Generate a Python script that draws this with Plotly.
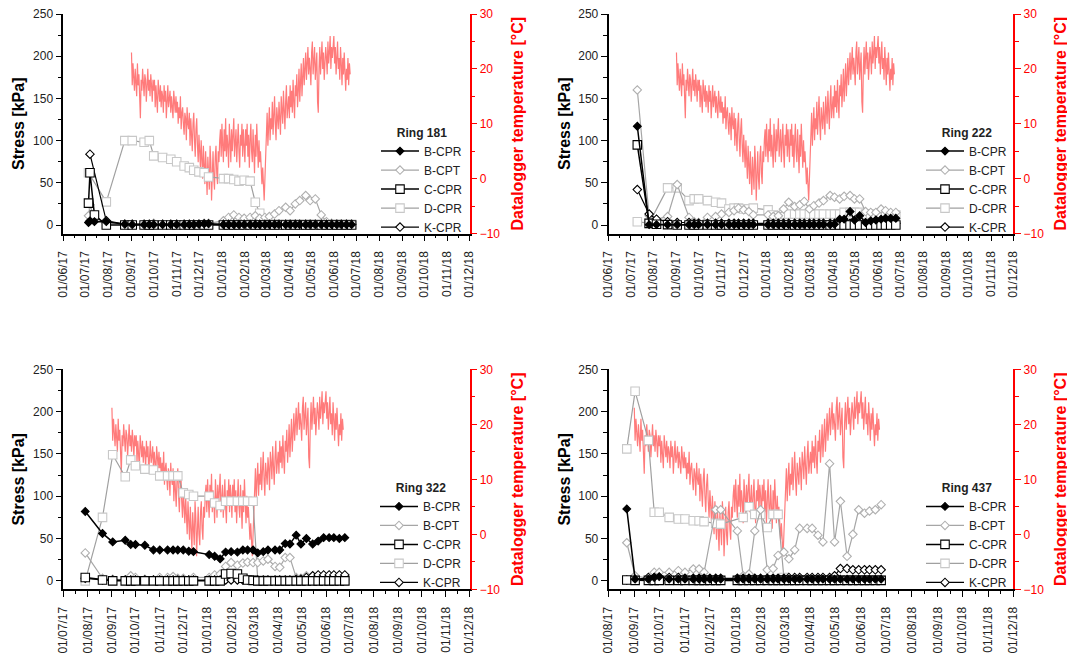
import pandas as pd
import plotly.graph_objects as go

FONT = "Liberation Sans, Arial, sans-serif"

# ---------------- data ----------------
# common reading schedule (Sep 2017 - Jun 2018)
main_dates = ["02/09/17", "18/09/17", "25/09/17",
              "01/10/17", "13/10/17", "24/10/17",
              "01/11/17", "11/11/17", "18/11/17", "24/11/17",
              "01/12/17", "08/12/17", "14/12/17",
              "03/01/18", "10/01/18", "17/01/18", "24/01/18", "31/01/18",
              "08/02/18", "15/02/18", "21/02/18", "28/02/18",
              "06/03/18", "13/03/18", "19/03/18", "28/03/18",
              "03/04/18", "10/04/18", "16/04/18", "24/04/18", "30/04/18",
              "07/05/18", "15/05/18", "22/05/18", "29/05/18",
              "05/06/18", "11/06/18", "18/06/18", "25/06/18"]

# Ring 181
r181_early = ["05/07/17", "07/07/17", "13/07/17", "29/07/17", "23/08/17"]
r181_bcpr = [3, 5, 4, 4, 1,
             0.5, 0.5, 0.5, 0.5, 0.5, 0.5, 0.5, 0.5, 0.5, 0.5, 1, 1.5, 1.5,
             0.5, 0.5, 0.5, 0.5, 0.5, 0.5, 0.5, 0.5, 0.5, 0.5, 0.5, 0.5, 0.5,
             0.5, 0.5, 0.5, 0.5, 0.5, 0.5, 0.5, 0.5, 0.5, 0.5, 0.5, 0.5, 0.5]
r181_bcpt = [11, 24, 8, 2, 1,
             1, 1, 1, 2, 1, 1, 1, 1, 1, 1, 1, 2, 2,
             5, 9, 12, 9, 8, 9, 11, 8, 9, 10, 13, 17, 21,
             17, 25, 29, 35, 29, 31, 12, 4, 2, 1, 1, 1, 1]
r181_ccpr = [26, 62, 12, 0, 0,
             0, 0, 0, 0, 0, 0, 0, 0, 0, 0, 0, 0, 0,
             0, 0, 0, 0, 0, 0, 0, 0, 0, 0, 0, 0, 0,
             0, 0, 0, 0, 0, 0, 0, 0, 0, 0, 0, 0, 0]
r181_dcpr = [62, None, None, 27.5, 100,
             100, 98, 100, 82, 80, 78, 75, 70, 68, 65, 63, 62, 57,
             55, 55, 54, 52, 53, 52, 27, 14, 3, 1, 1, 1, 1,
             1, 1, 1, 1, 1, 1, 1, 1, 1, 1, 1, 1, 1]
r181_kcpr = [None, 84, None, 5, 1,
             1, 1, 1, 1, 1, 1, 1, 1, 1, 1, 1, 1, 1,
             1, 1, 1, 1, 1, 1, 1, 1, 1, 1, 1, 1, 1,
             1, 1, 1, 1, 1, 1, 1, 1, 1, 1, 1, 1, 1]

# Ring 222
r222_early = ["10/07/17", "26/07/17", "05/08/17", "20/08/17"]
r222_bcpr = [117, 0.5, 0.5, 0.5,
             0.5, 0.5, 0.5, 0.5, 0.5, 0.5, 0.5, 0.5, 0.5, 0.5, 0.5, 0.5, 0.5,
             0.5, 0.5, 0.5, 0.5, 0.5, 0.5, 0.5, 0.5, 0.5, 0.5, 0.5, 0.5, 0.5,
             1, 7, 7, 16, 6, 11, 3, 5, 6, 7, 8, 8, 8]
r222_bcpt = [160, 11, 7, 10,
             48, 9, 4, 3, 9, 10, 13, 15, 17, 20, 18, 16, 12,
             12, 10, 11, 19, 27, 22, 24, 28, 19, 23, 26, 29, 35,
             33, 31, 34, 35, 31, 31, 16, 15, 15, 19, 17, 15, 15]
r222_ccpr = [95, 2, 1, 0.5,
             0, 0, 0, 0, 0, 0, 0, 0, 0, 0, 0, 0, 0,
             0, 0, 0, 0, 0, 0, 0, 0, 0, 0, 0, 0, 0,
             0, 0, 0, 0, 0, 0, 0, 0, 0, 0, 0, 0, 0]
r222_dcpr = [4, 2, None, 44,
             44, 29, 31, 31, 29, 27, 26, 19, 20, 20, 19, 19, 20,
             18, 12, 11, 13, 13, 13, 13, 13, 13, 13, 13, 13, 13,
             13, 13, 15, 15, 15, 15, 13, 13, 12, 12, 12, 12, 12]
r222_kcpr = [42, 13, 7, 4,
             3, 3, 2, 2, 2, 2, 2, 2, 2, 2, 2, 2, 2,
             2, 2, 2, 2, 2, 2, 2, 2, 2, 2, 2, 2, 2,
             2, 2, 2, 2, 2, 2, 2, 2, 2, 2, 2, 2, 2]

# Ring 322
r322_early = ["29/07/17", "20/08/17"]
r322_bcpr = [82, 56,
             46, 48, 43, 43, 42, 36.5, 36.5, 36.5, 36.5, 36.5, 36.5, 35, 34.5,
             31, 29, 26, 34, 34.5, 34, 36.5, 36.5, 36.5, 33, 34.5, 36.5, 36.5,
             36.5, 44, 43.5, 54, 43.5, 50, 43.5, 47, 51, 51, 51, 50, 51]
r322_bcpt = [33, 3,
             2, 1, 6, 4, 2, 1, 4, 4, 5, 3, 3, 1, 4,
             4, 7, 8, 17, 21.6, 18.5, 21, 22, 21.6, 21.6, 23.5, 25.5, 17,
             16, 27.5, 27.5, 4, 3, 6, 1, 2, 3, 1, 1, 1, 1]
r322_ccpr = [4, 1,
             0, 0, 0, 0, 0, 0, 0, 0, 0, 0, 0, 0, 0,
             0, 0, 0, 8, 8.6, 8, 3, 1, 0.5, 0, 0, 0, 0,
             0, 0, 0, 0, 0, 0, 0, 0, 0, 0, 0, 0, 0]
r322_dcpr = [0, 75,
             149, 123, 143, 136, 132, 131, 124, 124, 124, 124, 104, 102, 100,
             100, 92, 89, 94, 94, 94, 94, 94, 94, 0.5, 0.5, 0.5, 0.5,
             0.5, 0.5, 0.5, 0.5, 0.5, 0.5, 0.5, 0.5, 0.5, 0.5, 0.5, 0.5, 0.5]
r322_kcpr = [3, 1,
             1, 1, 1, 1, 1, 1, 1, 1, 1, 1, 1, 1, 1,
             1, 1, 1, 1, 1, 1, 1, 1, 1, 1, 1, 1, 1,
             1, 1, 1, 2, 2, 4, 6, 7, 7, 7, 7, 7, 7]

# Ring 437
r437_early = ["23/08/17"]
r437_bcpr = [85,
             2, 2, 4, 5, 2, 2, 2, 2, 2, 2, 2, 2, 2,
             2, 2, 2, 2, 2, 2, 2, 2, 2, 2, 2, 2, 2,
             2, 2, 2, 2, 2, 2, 2, 2, 2, 2, 2, 2, 2]
r437_bcpt = [45,
             6, 3, 10, 10, 10, 12, 10, 14, 14, 10, None, 84, 84,
             59, 6, 8, 59, 84, 13, 14.5, 30, 34, 26, 36.5, 62, 62,
             62, 54, 46, 138.5, 46, 94, 29, 55, 84, 80, 82.5, 84, 90]
r437_ccpr = [1,
             0.5, 0.5, 0.5, 0.5, 0.5, 0.5, 0.5, 0.5, 0.5, 0.5, 0.5, 0.5, 0.5,
             0.5, 0.5, 0.5, 0.5, 0.5, 0.5, 0.5, 0.5, 0.5, 0.5, 0.5, 0.5, 0.5,
             0.5, 0.5, 0.5, 0.5, 0.5, 0.5, 0.5, 0.5, 0.5, 0.5, 0.5, 0.5, 0.5]
r437_dcpr = [156,
             224, 166, 81, 81, 75, 73, 73, 71, 71, 70, None, 68, 67,
             None, 75, 87.5, 78.5, 78.5, 63, 78.5, 78.5, 4, 1, 1, 1, 1,
             1, 1, 1, 1, 1, 1, 1, 1, 1, 1, 1, 1, 1]
r437_kcpr = [1,
             2, 4, 4, 4, 4, 4, 3, 3, 3, 3, 3, 3, 3,
             3, 3, 3, 3, 3, 3, 3, 3, 3, 4, 4, 4, 4,
             4, 4, 4, 4, 6, 14.5, 14.5, 13, 13, 13, 13, 13, 13]

# Datalogger temperature, daily from 01/09/17
temp_start = "2017-09-01"
temp_values = [
    23, 17, 21, 19, 16, 20, 18, 15, 21, 17, 19, 14, 11, 18, 16, 20, 17, 15, 19, 18,
    14, 17, 20, 16, 18, 15, 19, 17, 14, 18,                                   # Sep
    16, 18, 13, 17, 15, 12, 18, 16, 14, 17, 13, 16, 15, 12, 17, 14, 16, 11, 15, 17,
    13, 14, 16, 12, 15, 13, 11, 16, 14, 12, 15,                               # Oct
    12, 14, 10, 13, 11, 15, 9, 12, 13, 10, 8, 12, 11, 7, 13, 10, 9, 12, 6, 11,
    8, 5, 10, 12, 7, 4, 9, 11, 6, 3,                                          # Nov
    8, 5, 2, 7, 4, 0, 6, 3, -1, 5, 2, -3, 4, 1, -2, 6, 3, -4, 2, 5,
    0, -2, 4, 6, 1, -1, 5, 3, 7, 9, 4,                                        # Dec
    10, 6, 3, 9, 5, 11, 4, 8, 6, 2, 10, 7, 3, 9, 5, 8, 11, 4, 6, 9,
    3, 7, 10, 5, 2, 8, 6, 10, 4, 9, 7,                                        # Jan
    3, 9, 6, 10, 4, 8, 2, 7, 10, 5, 3, 9, 6, 1, 8, 4, 10, 6, 2, 7,
    3, 5, 1, -1, 2, -3, -4, 0,                                                # Feb
    3, 8, 12, 6, 10, 13, 7, 11, 9, 14, 8, 12, 15, 10, 7, 13, 11, 9, 14, 12,
    8, 15, 13, 10, 16, 12, 9, 14, 17, 11, 13,                                 # Mar
    15, 11, 17, 13, 16, 12, 18, 14, 11, 17, 15, 19, 13, 16, 20, 14, 18, 21, 15, 19,
    22, 17, 20, 23, 18, 21, 24, 19, 22, 20,                                   # Apr
    17, 23, 25, 19, 22, 24, 18, 21, 23, 14, 12, 20, 24, 19, 22, 25, 20, 23, 18, 21,
    24, 22, 19, 25, 21, 23, 26, 20, 24, 22, 25,                               # May
    26, 21, 24, 19, 23, 25, 20, 22, 18, 24, 21, 17, 22, 19, 23, 17, 16, 20, 18, 22,
    17, 21, 19]                                                               # Jun

ring_names = ["Ring 181", "Ring 222", "Ring 322", "Ring 437"]
x_starts = ["2017-06-01", "2017-06-01", "2017-07-01", "2017-08-01"]
x_end = "2018-12-01"
series_names = ["B-CPR", "B-CPT", "C-CPR", "D-CPR", "K-CPR"]

# ---------------- styling ----------------
styles = {
    "B-CPR": dict(symbol="diamond", size=6, fill="black", edge="black", line="black", lw=1.5, rank=1),
    "B-CPT": dict(symbol="diamond", size=6.5, fill="white", edge="#B0B0B0", line="#A6A6A6", lw=1.2, rank=2),
    "C-CPR": dict(symbol="square", size=8.5, fill="white", edge="black", line="black", lw=1.5, rank=3),
    "D-CPR": dict(symbol="square", size=8.5, fill="white", edge="#C8C8C8", line="#A0A0A0", lw=1.2, rank=4),
    "K-CPR": dict(symbol="diamond", size=6.5, fill="white", edge="black", line="black", lw=1.2, rank=5),
}
draw_order = ["D-CPR", "B-CPT", "K-CPR", "C-CPR", "B-CPR"]

panel_data = [
    (r181_early, dict(zip(series_names, [r181_bcpr, r181_bcpt, r181_ccpr, r181_dcpr, r181_kcpr]))),
    (r222_early, dict(zip(series_names, [r222_bcpr, r222_bcpt, r222_ccpr, r222_dcpr, r222_kcpr]))),
    (r322_early, dict(zip(series_names, [r322_bcpr, r322_bcpt, r322_ccpr, r322_dcpr, r322_kcpr]))),
    (r437_early, dict(zip(series_names, [r437_bcpr, r437_bcpt, r437_ccpr, r437_dcpr, r437_kcpr]))),
]

# the page body has an 8px default margin, so the figure is 8px smaller
OFF = 8
W, H = 1075 - OFF, 657 - OFF
# pixel boxes in page coordinates (left, right, top, bottom)
boxes = [(63.3, 469.5, 14.0, 233.5), (608.5, 1013.3, 14.0, 233.5),
         (63.3, 469.5, 369.3, 589.3), (608.5, 1013.3, 369.3, 589.3)]
legend_pos = [(376, 121), (921, 121), (375, 476.3), (921, 476.3)]

temp_dates = pd.date_range(temp_start, periods=len(temp_values), freq="D")

fig = go.Figure()
layout = dict(width=W, height=H, margin=dict(l=0, r=0, t=0, b=0, autoexpand=False),
              paper_bgcolor="white", plot_bgcolor="white",
              font=dict(family=FONT, size=12, color="#222"), showlegend=True)

for i in range(4):
    n = i + 1
    xid = "x" if n == 1 else f"x{n}"
    ty = 2 * n - 1
    sy = 2 * n
    tyid = "y" if ty == 1 else f"y{ty}"
    syid = f"y{sy}"
    lgid = "legend" if n == 1 else f"legend{n}"
    early, sd = panel_data[i]
    dates = pd.to_datetime(early + main_dates, format="%d/%m/%y")

    fig.add_trace(go.Scatter(x=temp_dates, y=temp_values, mode="lines",
                             line=dict(color="#FF7B7B", width=1.2),
                             xaxis=xid, yaxis=tyid, showlegend=False,
                             hoverinfo="skip"))
    for name in draw_order:
        st = styles[name]
        fig.add_trace(go.Scatter(
            x=dates, y=sd[name], name=name, mode="lines+markers",
            connectgaps=True, xaxis=xid, yaxis=syid, legend=lgid,
            legendrank=st["rank"],
            line=dict(color=st["line"], width=st["lw"]),
            marker=dict(symbol=st["symbol"], size=st["size"], color=st["fill"],
                        line=dict(color=st["edge"], width=1.1))))

    l, r, t, b = [v - OFF for v in boxes[i]]
    xd = [l / W, r / W]
    yd = [1 - b / H, 1 - t / H]
    xkey = "xaxis" if n == 1 else f"xaxis{n}"
    tkey = "yaxis" if ty == 1 else f"yaxis{ty}"
    skey = f"yaxis{sy}"
    layout[xkey] = dict(
        domain=xd, anchor=tyid, type="date", range=[x_starts[i], x_end],
        automargin=False, ticklabeloverflow="allow", ticklabelstandoff=5,
        dtick="M1", tick0=x_starts[i], tickformat="%d/%m/%y", tickangle=-90,
        ticks="outside", ticklen=6, tickwidth=1.2, tickcolor="black",
        showline=True, linecolor="black", linewidth=1.6,
        showgrid=False, zeroline=False,
        tickfont=dict(family=FONT, size=12, color="#222"),
        minor=dict(ticks="outside", ticklen=3, tickcolor="black", tickwidth=1,
                   dtick="M1", tick0=pd.Timestamp(x_starts[i]).replace(day=16).strftime("%Y-%m-%d"),
                   showgrid=False))
    layout[tkey] = dict(
        domain=yd, anchor=xid, side="right", range=[-10, 30], dtick=10, tick0=0,
        automargin=False, ticklabeloverflow="allow",
        ticks="outside", ticklen=6, tickwidth=1.2, tickcolor="#FF0000",
        showline=True, linecolor="#FF0000", linewidth=1.6,
        showgrid=False, zeroline=False,
        tickfont=dict(family=FONT, size=12, color="#FF0000"),
        minor=dict(ticks="outside", ticklen=4, tickcolor="#FF0000", dtick=5, showgrid=False),
        title=dict(text="<b>Datalogger temperature [°C]</b>", standoff=12,
                   font=dict(family=FONT, size=16, color="#FF0000")))
    layout[skey] = dict(
        domain=yd, anchor=xid, overlaying=tyid, side="left", range=[-10, 250],
        dtick=50, tick0=0, automargin=False, ticklabeloverflow="allow",
        ticks="outside", ticklen=6, tickwidth=1.2, tickcolor="black",
        showline=True, linecolor="black", linewidth=1.6,
        showgrid=False, zeroline=False,
        tickfont=dict(family=FONT, size=12, color="#222"),
        minor=dict(ticks="outside", ticklen=4, tickcolor="black", dtick=25, showgrid=False),
        title=dict(text="<b>Stress [kPa]</b>", standoff=4,
                   font=dict(family=FONT, size=16, color="black")))
    lx, ly = legend_pos[i]
    layout[lgid] = dict(
        x=(lx - OFF) / W, y=1 - (ly - OFF) / H, xanchor="left", yanchor="top",
        bgcolor="rgba(0,0,0,0)", borderwidth=0, itemwidth=38,
        traceorder="normal", tracegroupgap=0,
        font=dict(family=FONT, size=12, color="#222"),
        title=dict(text=f"<b>{ring_names[i]}</b>", side="top center",
                   font=dict(family=FONT, size=12, color="#222")))

fig.update_layout(**layout)
fig.write_html("out.html")
